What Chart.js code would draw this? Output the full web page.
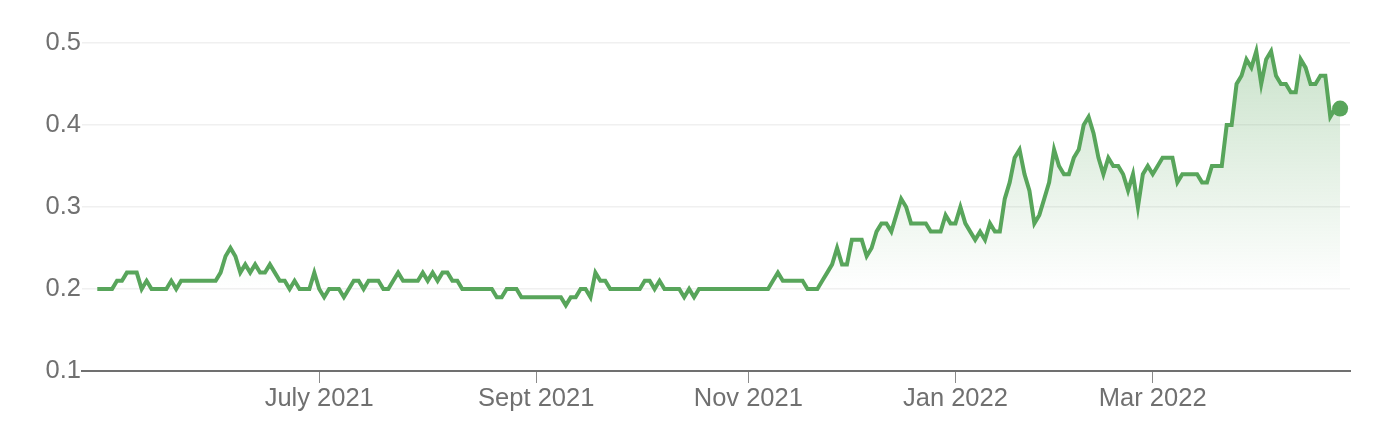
<!DOCTYPE html>
<html>
<head>
<meta charset="utf-8">
<script src="https://cdn.jsdelivr.net/npm/chart.js@4/dist/chart.umd.min.js"></script>
<style>
  html, body { margin: 0; padding: 0; background: #fff; }
  #wrap { width: 1394px; height: 440px; position: relative; }
</style>
</head>
<body>
<div id="wrap"><canvas id="priceChart"></canvas></div>
<script>
// one value per trading day
let prices = [
  0.20, 0.20, 0.20, 0.20, 0.21, 0.21, 0.22, 0.22, 0.22, 0.20,
  0.21, 0.20, 0.20, 0.20, 0.20, 0.21, 0.20, 0.21, 0.21, 0.21,
  0.21, 0.21, 0.21, 0.21, 0.21, 0.22, 0.24, 0.25, 0.24, 0.22,
  0.23, 0.22, 0.23, 0.22, 0.22, 0.23, 0.22, 0.21, 0.21, 0.20,
  0.21, 0.20, 0.20, 0.20, 0.22, 0.20, 0.19, 0.20, 0.20, 0.20,
  0.19, 0.20, 0.21, 0.21, 0.20, 0.21, 0.21, 0.21, 0.20, 0.20,
  0.21, 0.22, 0.21, 0.21, 0.21, 0.21, 0.22, 0.21, 0.22, 0.21,
  0.22, 0.22, 0.21, 0.21, 0.20, 0.20, 0.20, 0.20, 0.20, 0.20,
  0.20, 0.19, 0.19, 0.20, 0.20, 0.20, 0.19, 0.19, 0.19, 0.19,
  0.19, 0.19, 0.19, 0.19, 0.19, 0.18, 0.19, 0.19, 0.20, 0.20,
  0.19, 0.22, 0.21, 0.21, 0.20, 0.20, 0.20, 0.20, 0.20, 0.20,
  0.20, 0.21, 0.21, 0.20, 0.21, 0.20, 0.20, 0.20, 0.20, 0.19,
  0.20, 0.19, 0.20, 0.20, 0.20, 0.20, 0.20, 0.20, 0.20, 0.20,
  0.20, 0.20, 0.20, 0.20, 0.20, 0.20, 0.20, 0.21, 0.22, 0.21,
  0.21, 0.21, 0.21, 0.21, 0.20, 0.20, 0.20, 0.21, 0.22, 0.23,
  0.25, 0.23, 0.23, 0.26, 0.26, 0.26, 0.24, 0.25, 0.27, 0.28,
  0.28, 0.27, 0.29, 0.31, 0.30, 0.28, 0.28, 0.28, 0.28, 0.27,
  0.27, 0.27, 0.29, 0.28, 0.28, 0.30, 0.28, 0.27, 0.26, 0.27,
  0.26, 0.28, 0.27, 0.27, 0.31, 0.33, 0.36, 0.37, 0.34, 0.32,
  0.28, 0.29, 0.31, 0.33, 0.37, 0.35, 0.34, 0.34, 0.36, 0.37,
  0.40, 0.41, 0.39, 0.36, 0.34, 0.36, 0.35, 0.35, 0.34, 0.32,
  0.34, 0.30, 0.34, 0.35, 0.34, 0.35, 0.36, 0.36, 0.36, 0.33,
  0.34, 0.34, 0.34, 0.34, 0.33, 0.33, 0.35, 0.35, 0.35, 0.40,
  0.40, 0.45, 0.46, 0.48, 0.47, 0.49, 0.45, 0.48, 0.49, 0.46,
  0.45, 0.45, 0.44, 0.44, 0.48, 0.47, 0.45, 0.45, 0.46, 0.46,
  0.41, 0.42, 0.42
];

// x axis labels and the trading day index they sit on
let tickLabels = ["July 2021", "Sept 2021", "Nov 2021", "Jan 2022", "Mar 2022"];
let tickIndex = [45, 89, 132, 174, 214];

let yTicks = [0.1, 0.2, 0.3, 0.4, 0.5];

let green = "#58a55b";
let lastIdx = prices.length - 1;

Chart.defaults.font.family = "'Liberation Sans', Arial, Helvetica, sans-serif";
Chart.defaults.font.size = 25.5;
Chart.defaults.color = "#707070";

let ctx = document.getElementById("priceChart").getContext("2d");
let priceChart = new Chart(ctx, {
    type: "line",
    data: {
        datasets: [{
            data: prices.map(function(v, i) { return { x: i, y: v }; }),
            borderColor: green,
            borderWidth: 4,
            tension: 0,
            fill: "start",
            backgroundColor: function(context) {
                let chart = context.chart;
                let area = chart.chartArea;
                if (!area) return "rgba(88,165,91,0)";
                let bottom = chart.scales.y.getPixelForValue(0.2);
                let g = chart.ctx.createLinearGradient(0, area.top, 0, bottom);
                g.addColorStop(0, "rgba(88,165,91,0.32)");
                g.addColorStop(1, "rgba(88,165,91,0)");
                return g;
            },
            pointRadius: function(c) { return c.dataIndex === lastIdx ? 8 : 0; },
            pointBackgroundColor: green,
            pointBorderWidth: 0,
            pointHoverRadius: 0
        }]
    },
    options: {
        responsive: true,
        maintainAspectRatio: false,
        animation: false,
        layout: {
            padding: { left: 0, right: 44, top: 43, bottom: 0 }
        },
        plugins: {
            legend: { display: false },
            tooltip: { enabled: false }
        },
        scales: {
            x: {
                type: "linear",
                min: -3.1,
                max: 254,
                afterFit: function(scale) { scale.height = 69; },
                afterBuildTicks: function(scale) {
                    scale.ticks = tickIndex.map(function(v) { return { value: v }; });
                },
                ticks: {
                    autoSkip: false,
                    maxRotation: 0,
                    padding: 1,
                    callback: function(value) {
                        let k = tickIndex.indexOf(value);
                        return k >= 0 ? tickLabels[k] : "";
                    }
                },
                grid: {
                    drawOnChartArea: false,
                    color: "#8a8a8a",
                    lineWidth: 1,
                    tickLength: 12
                },
                border: { color: "#707070", width: 2 }
            },
            y: {
                min: 0.1,
                max: 0.5,
                afterFit: function(scale) { scale.width = 82; },
                afterBuildTicks: function(scale) {
                    scale.ticks = yTicks.map(function(v) { return { value: v }; });
                },
                ticks: {
                    padding: 1,
                    callback: function(value) { return value.toFixed(1); }
                },
                grid: {
                    drawTicks: false,
                    color: "#f0f0f0",
                    lineWidth: 1.5
                },
                border: { display: false }
            }
        }
    }
});
</script>
</body>
</html>
